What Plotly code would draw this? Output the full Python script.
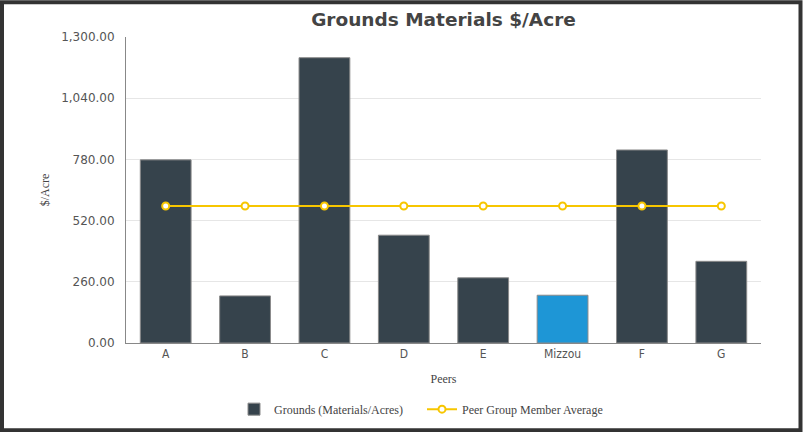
import plotly.graph_objects as go

categories = ["A", "B", "C", "D", "E", "Mizzou", "F", "G"]
grounds_values = [778, 200, 1212, 458, 277, 203, 820, 347]
peer_average = [582, 582, 582, 582, 582, 582, 582, 582]
highlight = "Mizzou"

# target picture coordinates (reference pixels)
W, H_REF = 803, 432
H = 436
K = H / H_REF
ML, MR = 126, 42
MT, MB = round(37 * K), round((432 - 343) * K)
PW, PH = W - ML - MR, H - MT - MB

bar_colors = ["#1e96d6" if c == highlight else "#36434c" for c in categories]

fig = go.Figure()
fig.add_trace(go.Bar(
    x=categories, y=grounds_values, name="Grounds (Materials/Acres)",
    marker=dict(color=bar_colors, line=dict(color="#8a8a8a", width=1)),
))
fig.add_trace(go.Scatter(
    x=categories, y=peer_average, name="Peer Group Member Average",
    mode="lines+markers",
    line=dict(color="#f7c600", width=2),
    marker=dict(size=7, color="white", line=dict(color="#f7c600", width=2)),
))

def px_x(p):
    return (p - ML) / PW

def px_y(p):
    return (H - MB - p * K) / PH

fig.update_layout(
    width=W, height=H,
    margin=dict(l=ML, r=MR, t=MT, b=MB),
    paper_bgcolor="white", plot_bgcolor="white",
    bargap=0.36,
    title=dict(text="<b>Grounds Materials $/Acre</b>", x=0.5, xref="paper", xanchor="center",
               y=1 - 19 * K / H, yanchor="middle",
               font=dict(family="DejaVu Sans, Verdana", size=18.5, color="#444444")),
    xaxis=dict(
        showgrid=False, showline=True, linecolor="#888888", linewidth=1,
        ticks="", tickfont=dict(family="Liberation Sans Narrow, DejaVu Sans Condensed, Arial", size=12, color="#555555"),
        title=dict(text="Peers", font=dict(family="Liberation Serif, Times New Roman", size=12, color="#444444"), standoff=14),
    ),
    yaxis=dict(
        range=[0, 1300], dtick=260, tick0=0, tickformat=",.2f",
        showgrid=True, gridcolor="#e6e6e6", gridwidth=1,
        showline=True, linecolor="#888888", linewidth=1, zeroline=False,
        tickfont=dict(family="DejaVu Sans, Verdana", size=12, color="#555555"),
        ticks="outside", ticklen=8, tickcolor="white",
        title=dict(text="$/Acre", font=dict(family="Liberation Serif, Times New Roman", size=12, color="#444444"), standoff=8),
    ),
    legend=dict(orientation="h", x=px_x(234), xanchor="left", y=px_y(409), yanchor="middle",
                font=dict(family="Liberation Serif, Times New Roman", size=12, color="#444444"),
                itemwidth=30, entrywidthmode="pixels", entrywidth=143),
    showlegend=True,
    shapes=[dict(type="rect", xref="paper", yref="paper",
                 x0=px_x(2), x1=px_x(800.5), y0=px_y(1.8), y1=px_y(430.2),
                 line=dict(color="#333333", width=4), fillcolor="rgba(0,0,0,0)", layer="above")],
)

fig.write_html("out.html", config={"displayModeBar": False},
               post_script="document.body.style.margin='0';document.body.style.overflow='hidden';")
